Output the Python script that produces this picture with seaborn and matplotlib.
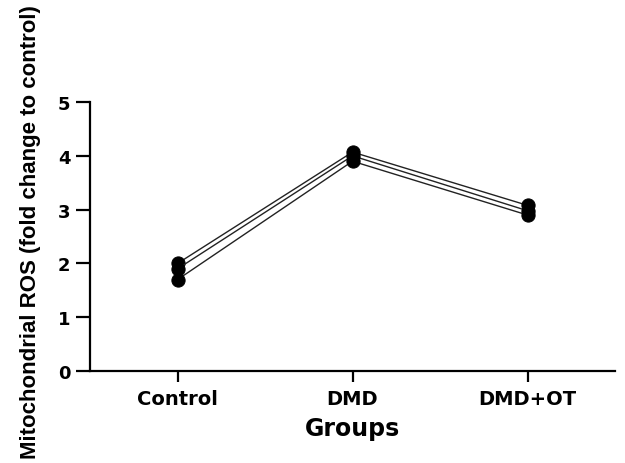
import pandas as pd
import matplotlib.pyplot as plt
import seaborn as sns

groups = ['Control', 'DMD', 'DMD+OT']
subject_1 = [2.0, 4.07, 3.08]
subject_2 = [1.9, 4.0, 2.98]
subject_3 = [1.7, 3.9, 2.9]
y_ticks = [0, 1, 2, 3, 4, 5]

rows = []
for sid, vals in enumerate([subject_1, subject_2, subject_3]):
    for g, v in zip(groups, vals):
        rows.append({'subject': sid, 'group': g, 'ros': v})
df = pd.DataFrame(rows)

sns.set_style('ticks')
plt.rcParams['font.family'] = ['DejaVu Sans']

fig = plt.figure(figsize=(6.25, 4.64), dpi=100)
ax = fig.add_axes([0.144, 0.198, 0.84, 0.58])

sns.lineplot(data=df, x='group', y='ros', units='subject', estimator=None,
             color='#222222', linewidth=1.0, marker='o', markersize=9.5,
             markerfacecolor='black', markeredgecolor='black', ax=ax)

ax.set_xlim(-0.5, 2.5)
ax.set_ylim(0, 5)
ax.set_yticks(y_ticks)
ax.set_xlabel('Groups', fontsize=17, fontweight='bold', color='black')
ax.set_ylabel('Mitochondrial ROS (fold change to control)', fontsize=16,
              fontweight='bold', family=['Liberation Sans', 'DejaVu Sans'], color='black')
ax.yaxis.set_label_coords(-0.114, 0.52)
ax.yaxis.label.set_va('center')
ax.xaxis.set_label_coords(0.5, -0.165)

for lbl in ax.get_xticklabels() + ax.get_yticklabels():
    lbl.set_fontweight('bold')
    lbl.set_color('black')
for lbl in ax.get_xticklabels():
    lbl.set_fontsize(14)
for lbl in ax.get_yticklabels():
    lbl.set_fontsize(13)

ax.tick_params(axis='both', width=1.6, color='black')
ax.tick_params(axis='x', length=8, pad=5)
ax.tick_params(axis='y', length=10, pad=4)
for side in ['left', 'bottom']:
    ax.spines[side].set_linewidth(1.6)
    ax.spines[side].set_color('black')
sns.despine(ax=ax)

fig.savefig('out.png', dpi=100)
